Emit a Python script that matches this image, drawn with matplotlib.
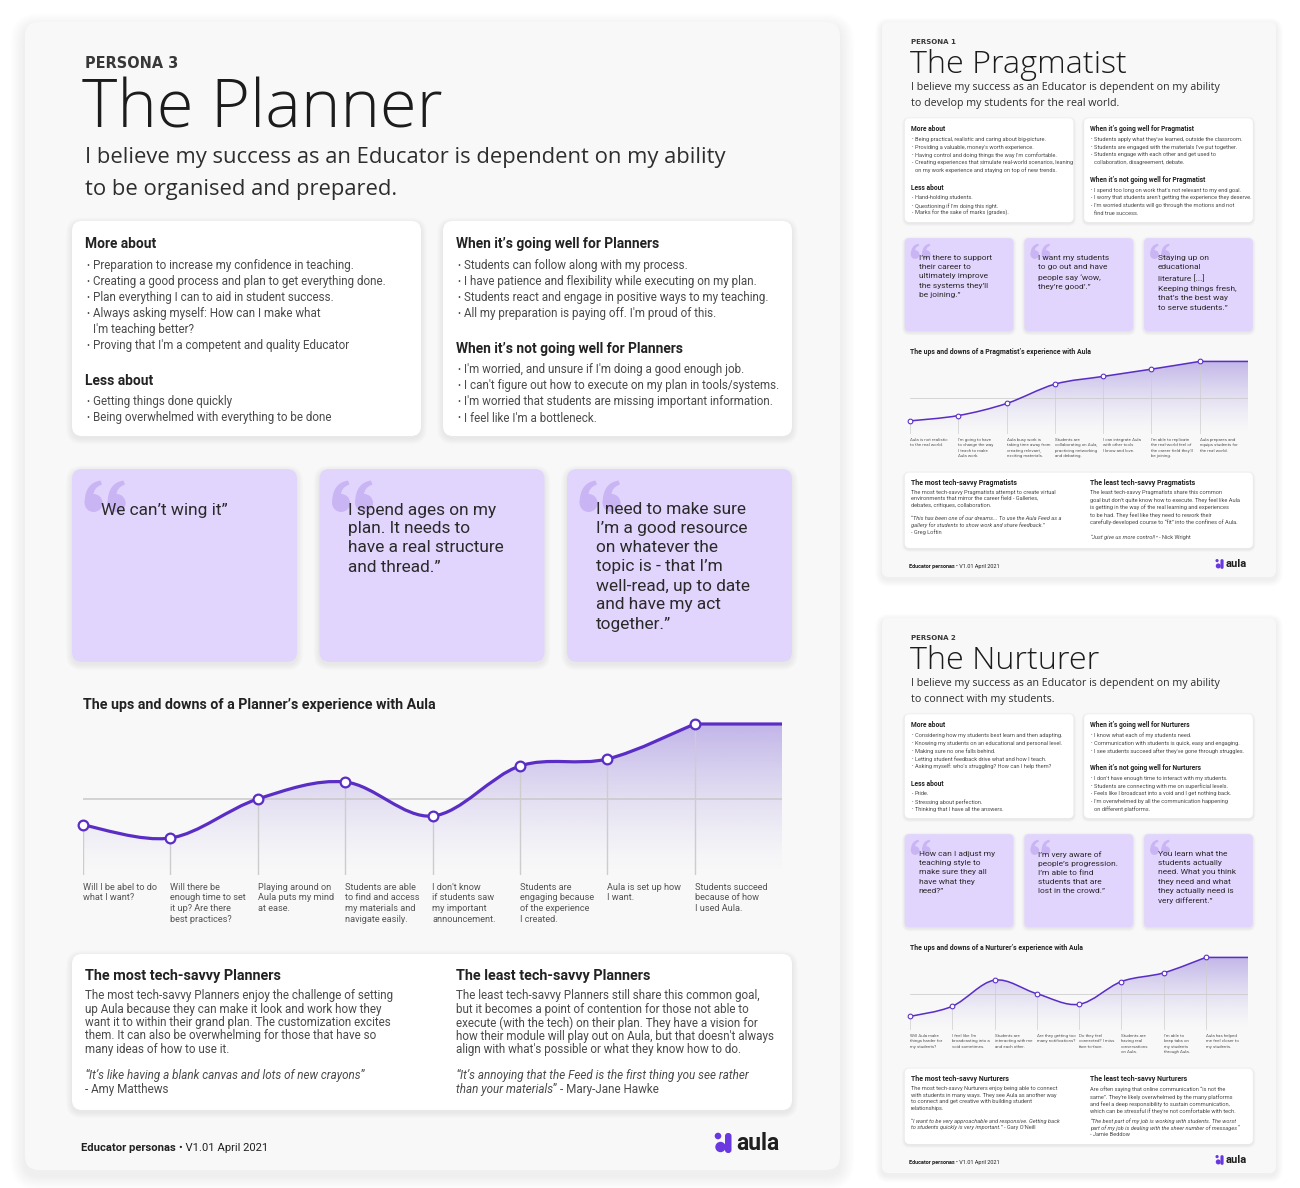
import numpy as np
import matplotlib
matplotlib.use("Agg")
import matplotlib.pyplot as plt
from matplotlib.patches import FancyBboxPatch, PathPatch, Circle
from matplotlib.path import Path
from matplotlib.colors import to_rgb
from matplotlib.font_manager import FontProperties

plt.rcParams['font.family'] = ['Roboto', 'DejaVu Sans']

W, H = 1300, 1188
PURPLE = '#5a2ec4'
LAVENDER = '#e2d5fd'
QUOTE_MARK = '#c9b5f4'
PAGE_BG = '#f8f8f8'
DARK = '#222222'
BODY = '#4a4a4a'

# ---------------- Persona 3 : The Planner ----------------
planner_tag = "PERSONA 3"
planner_title = "The Planner"
planner_belief = ["I believe my success as an Educator is dependent on my ability",
                  "to be organised and prepared."]
planner_more = ["Preparation to increase my confidence in teaching.",
                "Creating a good process and plan to get everything done.",
                "Plan everything I can to aid in student success.",
                "Always asking myself: How can I make what\nI'm teaching better?",
                "Proving that I'm a competent and quality Educator"]
planner_less = ["Getting things done quickly",
                "Being overwhelmed with everything to be done"]
planner_well_title = "When it’s going well for Planners"
planner_well = ["Students can follow along with my process.",
                "I have patience and flexibility while executing on my plan.",
                "Students react and engage in positive ways to my teaching.",
                "All my preparation is paying off. I'm proud of this."]
planner_not_title = "When it’s not going well for Planners"
planner_not = ["I'm worried, and unsure if I'm doing a good enough job.",
               "I can't figure out how to execute on my plan in tools/systems.",
               "I'm worried that students are missing important information.",
               "I feel like I'm a bottleneck."]
planner_quotes = ["We can’t wing it”",
                  "I spend ages on my\nplan. It needs to\nhave a real structure\nand thread.”",
                  "I need to make sure\nI’m a good resource\non whatever the\ntopic is - that I’m\n"
                  "well-read, up to date\nand have my act\ntogether.”"]
planner_chart_title = "The ups and downs of a Planner’s experience with Aula"
planner_steps = ["Will I be abel to do\nwhat I want?",
                 "Will there be\nenough time to set\nit up? Are there\nbest practices?",
                 "Playing around on\nAula puts my mind\nat ease.",
                 "Students are able\nto find and access\nmy materials and\nnavigate easily.",
                 "I don't know\nif students saw\nmy important\nannouncement.",
                 "Students are\nengaging because\nof the experience\nI created.",
                 "Aula is set up how\nI want.",
                 "Students succeed\nbecause of how\nI used Aula."]
planner_mood = [-2.6, -3.9, 0.0, 1.7, -1.7, 3.3, 4.0, 7.5]
planner_most_title = "The most tech-savvy Planners"
planner_most_body = ["The most tech-savvy Planners enjoy the challenge of setting",
                     "up Aula because they can make it look and work how they",
                     "want it to within their grand plan. The customization excites",
                     "them. It can also be overwhelming for those that have so",
                     "many ideas of how to use it."]
planner_most_quote = [[("“", "n"), ("It’s like having a blank canvas and lots of new crayons", "i"), ("”", "n")],
                      [("- Amy Matthews", "n")]]
planner_least_title = "The least tech-savvy Planners"
planner_least_body = ["The least tech-savvy Planners still share this common goal,",
                      "but it becomes a point of contention for those not able to",
                      "execute (with the tech) on their plan. They have a vision for",
                      "how their module will play out on Aula, but that doesn't always",
                      "align with what's possible or what they know how to do."]
planner_least_quote = [[("“", "n"), ("It’s annoying that the Feed is the first thing you see rather", "i")],
                       [("than your materials", "i"), ("”", "n"), (" - Mary-Jane Hawke", "n")]]

# ---------------- Persona 1 : The Pragmatist ----------------
prag_tag = "PERSONA 1"
prag_title = "The Pragmatist"
prag_belief = ["I believe my success as an Educator is dependent on my ability",
               "to develop my students for the real world."]
prag_more = ["Being practical, realistic and caring about big-picture.",
             "Providing a valuable, money's worth experience.",
             "Having control and doing things the way I'm comfortable.",
             "Creating experiences that simulate real-world scenarios, leaning\non my work experience and staying on top of new trends."]
prag_less = ["Hand-holding students.",
             "Questioning if I'm doing this right.",
             "Marks for the sake of marks (grades)."]
prag_well_title = "When it’s going well for Pragmatist"
prag_well = ["Students apply what they've learned, outside the classroom.",
             "Students are engaged with the materials I've put together.",
             "Students engage with each other and get used to\ncollaboration, disagreement, debate."]
prag_not_title = "When it’s not going well for Pragmatist"
prag_not = ["I spend too long on work that's not relevant to my end goal.",
            "I worry that students aren't getting the experience they deserve.",
            "I'm worried students will go through the motions and not\nfind true success."]
prag_quotes = ["I’m there to support\ntheir career to\nultimately improve\nthe systems they’ll\nbe joining.”",
               "I want my students\nto go out and have\npeople say ‘wow,\nthey’re good’.”",
               "Staying up on\neducational\nliterature [...]\nKeeping things fresh,\nthat’s the best way\nto serve students.”"]
prag_chart_title = "The ups and downs of a Pragmatist’s experience with Aula"
prag_steps = ["Aula is not realistic\nto the real world.",
              "I'm going to have\nto change the way\nI teach to make\nAula work.",
              "Aula busy work is\ntaking time away from\ncreating relevant,\nexciting materials.",
              "Students are\ncollaborating on Aula,\npracticing networking\nand debating.",
              "I can integrate Aula\nwith other tools\nI know and love.",
              "I'm able to replicate\nthe real-world feel of\nthe career field they'll\nbe joining.",
              "Aula prepares and\nequips students for\nthe real world."]
prag_mood = [-4.8, -3.7, -1.2, 2.8, 4.4, 5.9, 7.5]
prag_most_title = "The most tech-savvy Pragmatists"
prag_most_body = ["The most tech-savvy Pragmatists attempt to create virtual",
                  "environments that mirror the career field - Galleries,",
                  "debates, critiques, collaboration."]
prag_most_quote = [[("“", "n"), ("This has been one of our dreams... To use the Aula Feed as a", "i")],
                   [("gallery for students to show work and share feedback.", "i"), ("”", "n")],
                   [("- Greg Loftin", "n")]]
prag_least_title = "The least tech-savvy Pragmatists"
prag_least_body = ["The least tech-savvy Pragmatists share this common",
                   "goal but don't quite know how to execute. They feel like Aula",
                   "is getting in the way of the real learning and experiences",
                   "to be had. They feel like they need to rework their",
                   "carefully-developed course to “fit” into the confines of Aula.",
                   ""]
prag_least_quote = [[("“", "n"), ("Just give us more control!", "i"), ("”", "n"), (" - Nick Wright", "n")]]

# ---------------- Persona 2 : The Nurturer ----------------
nurt_tag = "PERSONA 2"
nurt_title = "The Nurturer"
nurt_belief = ["I believe my success as an Educator is dependent on my ability",
               "to connect with my students."]
nurt_more = ["Considering how my students best learn and then adapting.",
             "Knowing my students on an educational and personal level.",
             "Making sure no one falls behind.",
             "Letting student feedback drive what and how I teach.",
             "Asking myself: who's struggling? How can I help them?"]
nurt_less = ["Pride.",
             "Stressing about perfection.",
             "Thinking that I have all the answers."]
nurt_well_title = "When it’s going well for Nurturers"
nurt_well = ["I know what each of my students need.",
             "Communication with students is quick, easy and engaging.",
             "I see students succeed after they've gone through struggles."]
nurt_not_title = "When it’s not going well for Nurturers"
nurt_not = ["I don't have enough time to interact with my students.",
            "Students are connecting with me on superficial levels.",
            "Feels like I broadcast into a void and I get nothing back.",
            "I'm overwhelmed by all the communication happening\non different platforms."]
nurt_quotes = ["How can I adjust my\nteaching style to\nmake sure they all\nhave what they\nneed?”",
               "I’m very aware of\npeople’s progression.\nI’m able to find\nstudents that are\nlost in the crowd.”",
               "You learn what the\nstudents actually\nneed. What you think\nthey need and what\nthey actually need is\nvery different.”"]
nurt_chart_title = "The ups and downs of a Nurturer’s experience with Aula"
nurt_steps = ["Will Aula make\nthings harder for\nmy students?",
              "I feel like I'm\nbroadcasting into a\nvoid sometimes.",
              "Students are\ninteracting with me\nand each other.",
              "Are they getting too\nmany notifications?",
              "Do they feel\nconnected? I miss\nface-to-face.",
              "Students are\nhaving real\nconversations\non Aula.",
              "I'm able to\nkeep tabs on\nmy students\nthrough Aula.",
              "Aula has helped\nme feel closer to\nmy students."]
nurt_mood = [-4.7, -2.6, 2.8, 0.0, -2.2, 2.5, 4.3, 7.5]
nurt_most_title = "The most tech-savvy Nurturers"
nurt_most_body = ["The most tech-savvy Nurturers enjoy being able to connect",
                  "with students in many ways. They see Aula as another way",
                  "to connect and get creative with building student",
                  "relationships."]
nurt_most_quote = [[("“", "n"), ("I want to be very approachable and responsive. Getting back", "i")],
                   [("to students quickly is very important.", "i"), ("”", "n"), (" - Gary O'Neill", "n")]]
nurt_least_title = "The least tech-savvy Nurturers"
nurt_least_body = ["Are often saying that online communication “is not the",
                   "same”. They're likely overwhelmed by the many platforms",
                   "and feel a deep responsibility to sustain communication,",
                   "which can be stressful if they're not comfortable with tech."]
nurt_least_quote = [[("“", "n"), ("The best part of my job is working with students. The worst", "i")],
                    [("part of my job is dealing with the sheer number of messages", "i"), ("”", "n")],
                    [("- Jamie Beddow", "n")]]

footer_runs = [("Educator personas", "b"), (" • V1.01 April 2021", "n")]


def persona(tag, title, belief, more, less, wt, well, nt, nwell, quotes, ct, steps, mood,
            mt, mb, mq, lt, lb, lq):
    return dict(tag=tag, title=title, belief=belief, more=more, less=less,
                well_title=wt, well=well, not_title=nt, not_well=nwell, quotes=quotes,
                chart_title=ct, steps=steps, mood=mood,
                most=(mt, mb, mq), least=(lt, lb, lq))


planner = persona(planner_tag, planner_title, planner_belief, planner_more, planner_less,
                  planner_well_title, planner_well, planner_not_title, planner_not, planner_quotes,
                  planner_chart_title, planner_steps, planner_mood,
                  planner_most_title, planner_most_body, planner_most_quote,
                  planner_least_title, planner_least_body, planner_least_quote)
pragmatist = persona(prag_tag, prag_title, prag_belief, prag_more, prag_less,
                     prag_well_title, prag_well, prag_not_title, prag_not, prag_quotes,
                     prag_chart_title, prag_steps, prag_mood,
                     prag_most_title, prag_most_body, prag_most_quote,
                     prag_least_title, prag_least_body, prag_least_quote)
nurturer = persona(nurt_tag, nurt_title, nurt_belief, nurt_more, nurt_less,
                   nurt_well_title, nurt_well, nurt_not_title, nurt_not, nurt_quotes,
                   nurt_chart_title, nurt_steps, nurt_mood,
                   nurt_most_title, nurt_most_body, nurt_most_quote,
                   nurt_least_title, nurt_least_body, nurt_least_quote)

fig = plt.figure(figsize=(W / 100, H / 100), dpi=100)
fig.patch.set_facecolor('white')
bg = fig.add_axes([0, 0, 1, 1])
bg.set_xlim(0, W)
bg.set_ylim(H, 0)
bg.axis('off')
renderer = fig.canvas.get_renderer()


def lp_metrics(size, weight='normal', style='normal'):
    fp = FontProperties(family=plt.rcParams['font.family'], size=size, weight=weight, style=style)
    _, h, d = renderer.get_text_width_height_descent('lp', fp, ismath=False)
    return h, d


def block(x, yc, lines, size, pitch, **kw):
    # several lines as one text; pitch in pixels, yc = centre of first line
    h, d = lp_metrics(size)
    ls = (pitch - d) / (h - d)
    bg.text(x, yc - h / 2, '\n'.join(lines), fontsize=size, linespacing=ls,
            va='top', ha='left', **kw)


def card(x, y, w, h, r, color, spread, alpha, z):
    # soft shadow made of stacked translucent rounded rects
    n = 8
    for k in range(n, 0, -1):
        g = spread * k / n
        bg.add_patch(FancyBboxPatch((x - g, y - g + spread * 0.4), w + 2 * g, h + 2 * g,
                                    boxstyle=f"round,pad=0,rounding_size={r + g}",
                                    fc='black', ec='none', alpha=alpha, zorder=z))
    bg.add_patch(FancyBboxPatch((x, y), w, h, boxstyle=f"round,pad=0,rounding_size={r}",
                                fc=color, ec='none', zorder=z + 0.5))


def quote_mark(x0, y0, s):
    # heavy "66" opening quote, 43 x 32 px at full size
    for dx in (0, 23):
        ox = x0 + dx * s
        P = lambda px, py: (ox + px * s, y0 + py * s)
        tail = Path([P(0.6, 23), P(0.6, 3), P(16.5, 0.5), P(18, 4.5), P(9.5, 7.5), P(9.5, 15),
                     P(9.5, 23), P(0.6, 23)],
                    [Path.MOVETO, Path.CURVE3, Path.CURVE3, Path.LINETO, Path.CURVE3, Path.CURVE3,
                     Path.LINETO, Path.CLOSEPOLY])
        bg.add_patch(PathPatch(tail, fc=QUOTE_MARK, ec='none', zorder=5))
        bg.add_patch(Circle(P(9.6, 23), 9 * s, fc=QUOTE_MARK, ec='none', zorder=5))


def runs_text(x, y, runs, size, color, z=6):
    for txt, st in runs:
        kw = dict(fontsize=size, color=color, va='center', ha='left', zorder=z)
        if st == 'b':
            kw['weight'] = 'bold'
        if st == 'i':
            kw['style'] = 'italic'
        if txt.startswith(' '):
            x += size / 0.72 * 0.26
            txt = txt.lstrip()
        t = bg.text(x, y, txt, **kw)
        x += t.get_window_extent(renderer).width


def draw_chart(left, top, w, h, s, vals, labels):
    ax = fig.add_axes([left / W, 1 - (top + h) / H, w / W, h / H])
    ax.axis('off')
    n = len(vals)
    xs = np.arange(n)
    ylo, yhi = -7.6, 8.4
    pts = np.column_stack([xs, vals]).astype(float)
    ext = np.vstack([pts[0], pts, pts[-1]])
    verts, codes = [pts[0]], [Path.MOVETO]
    for i in range(n - 1):
        p0, p1, p2, p3 = ext[i], ext[i + 1], ext[i + 2], ext[i + 3]
        verts += [p1 + (p2 - p0) / 6, p2 - (p3 - p1) / 6, p2]
        codes += [Path.CURVE4] * 3
    verts.append((n, vals[-1]))
    codes.append(Path.LINETO)
    line_path = Path(verts, codes)
    fill_path = Path(verts + [(n, ylo), (0, ylo), (0, ylo)],
                     codes + [Path.LINETO, Path.LINETO, Path.CLOSEPOLY])
    clip = PathPatch(fill_path, fc='none', ec='none', transform=ax.transData)
    ax.add_patch(clip)
    grad = np.zeros((256, 1, 4))
    grad[..., :3] = to_rgb('#6b4bd0')
    grad[..., 3] = (0.42 * np.linspace(1, 0, 256) ** 1.4)[:, None]
    im = ax.imshow(grad, extent=[0, n, ylo, yhi], aspect='auto', origin='upper', zorder=1)
    im.set_clip_path(clip)
    ax.axhline(0, color='#c9c9c9', lw=1.1 * s, zorder=2)
    ax.vlines(xs, ylo, vals, color='#cdcdcd', lw=1.0 * s, zorder=2)
    ax.add_patch(PathPatch(line_path, fc='none', ec=PURPLE, lw=2.3 * s, zorder=3,
                           capstyle='round', joinstyle='round'))
    ax.plot(xs, vals, 'o', ms=7 * s, mfc='white', mec=PURPLE, mew=1.6 * s,
            zorder=4, clip_on=False)
    size = 9.1 * 0.72 * s
    lh, ld = lp_metrics(size)
    ls = (10.8 * s - ld) / (lh - ld)
    for i, lab in enumerate(labels):
        ax.annotate(lab, xy=(i, ylo), xycoords='data',
                    xytext=(0, -(12 * s - lh / 2) * 0.72), textcoords='offset points',
                    fontsize=size, color='#555555', va='top', ha='left', linespacing=ls)
    ax.set_xlim(0, n)
    ax.set_ylim(ylo, yhi)


def draw_page(ox, oy, s, p):
    X = lambda v: ox + v * s
    Y = lambda v: oy + v * s
    F = lambda px: px * s * 0.72

    card(X(0), Y(0), 815 * s, 1148 * s, 14 * s, PAGE_BG, 14 * s, 0.007, 0)

    bg.text(X(60), Y(41), p['tag'], fontsize=F(14.5), family='DejaVu Sans', weight='bold',
            color='#383838', va='center', zorder=6)
    bg.text(X(57), Y(106), p['title'], fontsize=F(67), family=['Open Sans', 'DejaVu Sans'],
            weight='light', color='#1c1c1c', va='baseline', zorder=6)
    for k, ln in enumerate(p['belief']):
        bg.text(X(60), Y(136 + 32 * k), ln, fontsize=F(22), family=['Open Sans', 'DejaVu Sans'],
                color='#2e2e2e', va='center', zorder=6)

    def bullets(x, y, head, items):
        bg.text(X(x), Y(y), head, fontsize=F(13.8), weight='bold', color=DARK, va='center', zorder=6)
        y += 21
        for item in items:
            bg.text(X(x + 1), Y(y), '•', fontsize=F(9), color=BODY, va='center', zorder=6)
            for ln in item.split('\n'):
                bg.text(X(x + 8), Y(y), ln, fontsize=F(11.6), color=BODY, va='center', zorder=6)
                y += 16
        return y - 16

    card(X(47), Y(199), 349 * s, 215 * s, 10 * s, 'white', 6 * s, 0.006, 2)
    card(X(418), Y(199), 349 * s, 215 * s, 10 * s, 'white', 6 * s, 0.006, 2)
    y = bullets(60, 222, 'More about', p['more'])
    bullets(60, y + 36, 'Less about', p['less'])
    y = bullets(431, 222, p['well_title'], p['well'])
    bullets(431, y + 36, p['not_title'], p['not_well'])

    for k, q in enumerate(p['quotes']):
        bx = 47 + k * 247.5
        card(X(bx), Y(447), 225 * s, 193 * s, 10 * s, LAVENDER, 6 * s, 0.006, 2)
        quote_mark(X(bx + 12), Y(458), s)
        block(X(bx + 29), Y(488), q.split('\n'), F(17.3), 19 * s, color='#2a2a2a', zorder=6)

    bg.text(X(58), Y(683), p['chart_title'], fontsize=F(14.3), weight='bold', color=DARK,
            va='center', zorder=6)
    draw_chart(X(58), Y(693), 699 * s, 160 * s, s, p['mood'], p['steps'])

    card(X(47), Y(932), 720 * s, 156 * s, 10 * s, 'white', 6 * s, 0.006, 2)
    for cx, key in [(60, 'most'), (431, 'least')]:
        head, body, quote = p[key]
        bg.text(X(cx), Y(954), head, fontsize=F(14.4), weight='bold', color=DARK,
                va='center', zorder=6)
        block(X(cx), Y(974), body, F(11.6), 13.3 * s, color=BODY, zorder=6)
        y = 974 + 13.3 * (len(body) + 1)
        for runs in quote:
            runs_text(X(cx), Y(y), runs, F(11.6), BODY)
            y += 13.6

    runs_text(X(56), Y(1126), footer_runs, F(11.3), DARK)
    icon = '#6a38e0'
    bg.add_patch(Circle((X(693), Y(1114)), 3.3 * s, fc=icon, ec='none', zorder=6))
    bg.add_patch(Circle((X(695.5), Y(1125)), 5.2 * s, fc=icon, ec='none', zorder=6))
    bg.add_patch(FancyBboxPatch((X(700), Y(1111)), 6.5 * s, 20 * s,
                                boxstyle=f"round,pad=0,rounding_size={3 * s}",
                                fc=icon, ec='none', zorder=6))
    bg.text(X(711), Y(1121), 'aula', fontsize=F(23), weight='bold', color='#1f1f1f',
            va='center', zorder=6)


draw_page(25, 22, 1.0, planner)
draw_page(882, 22, 0.4835, pragmatist)
draw_page(882, 618, 0.4835, nurturer)

fig.savefig('out.png', dpi=100, facecolor='white')
